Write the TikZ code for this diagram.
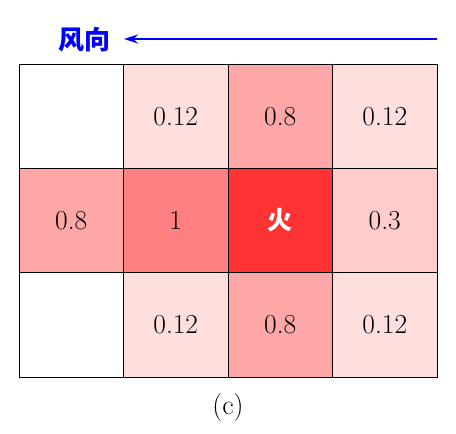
\documentclass[tikz,border=0pt]{standalone}
\usepackage{fontspec}
\newfontfamily\cjk{Noto Sans CJK SC}
\usetikzlibrary{arrows.meta}
\tikzset{
  cell/.style={draw=black, line width=0.8pt, minimum width=104.5pt, minimum height=104.3pt, inner sep=0pt, anchor=center, font=\fontsize{27.5}{32}\selectfont},
  lbl/.style={inner sep=0pt}
}
\begin{document}
\begin{tikzpicture}[x=1pt,y=-1pt]
\useasboundingbox (0,0) rectangle (456,434);
% row 1
\node[cell, fill=white] (c11) at (71.25,116.2) {};
\node[cell, fill=red!13] (c12) at (175.75,116.2) {0.12};
\node[cell, fill=red!35] (c13) at (280.25,116.2) {0.8};
\node[cell, fill=red!13] (c14) at (384.75,116.2) {0.12};
% row 2
\node[cell, fill=red!35] (c21) at (71.25,220.5) {0.8};
\node[cell, fill=red!50] (c22) at (175.75,220.5) {1};
\node[cell, fill=red!80, text=white] (c23) at (280.25,220.5) {\fontsize{25}{30}\cjk\bfseries 火};
\node[cell, fill=red!20] (c24) at (384.75,220.5) {0.3};
% row 3
\node[cell, fill=white] (c31) at (71.25,324.8) {};
\node[cell, fill=red!13] (c32) at (175.75,324.8) {0.12};
\node[cell, fill=red!35] (c33) at (280.25,324.8) {0.8};
\node[cell, fill=red!13] (c34) at (384.75,324.8) {0.12};
% wind direction
\node[lbl, text=blue, font=\fontsize{26}{30}\cjk\bfseries] (wind) at (84,40) {风向};
\coordinate (astart) at (437,39);
\coordinate (aend) at (124,39);
\draw[blue, line width=1.6pt, -{Stealth[length=14pt,width=9pt]}] (astart) -- (aend);
% caption
\node[lbl, font=\fontsize{28}{32}\selectfont] (cap) at (228,408) {(c)};
\end{tikzpicture}
\end{document}
